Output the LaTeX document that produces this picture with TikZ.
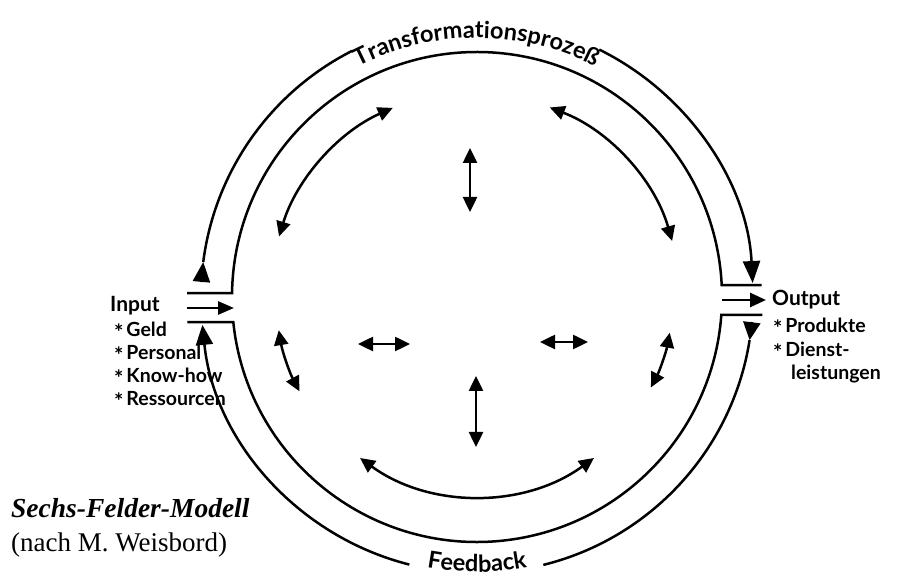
\documentclass[tikz,border=0pt]{standalone}
\usepackage{fontspec}
\setmainfont{Liberation Serif}
\newfontfamily\hand{Lato}
\usetikzlibrary{arrows.meta,decorations.text,calc}
\newcommand\starmark{\raisebox{-0.38ex}{\fontsize{22}{22}\selectfont*}\hspace{0.15em}}

\begin{document}
\begin{tikzpicture}[x=1pt,y=1pt,
  ring/.style={line width=2.5pt},
  bigtip/.style={-{Triangle[length=#1,width=17pt]}},
  flow/.style={line width=2.5pt,
    {Triangle[length=15pt,width=14pt]}-{Triangle[length=15pt,width=14pt]}},
  handtext/.style={font=\hand\bfseries\fontsize{21}{24}\selectfont, inner sep=0pt},
  itemtext/.style={font=\hand\bfseries\fontsize{19.5}{22}\selectfont, inner sep=0pt},
]
\useasboundingbox (0,0) rectangle (897,578);
\fill[white] (0,0) rectangle (897,578);

\coordinate (C) at (477,281);

% ---- outer ring: transformation (top) and feedback (bottom) ----
\coordinate (OLb) at ($(C)+(176.9:276)$);
\coordinate (OLa) at ($(C)+(172.7:276)$);
\coordinate (OTr) at ($(C)+(63.7:276)$);
\coordinate (OBl) at ($(C)+(255.8:276)$);
\coordinate (ORb) at ($(C)+(354.8:276)$);
\coordinate (ORa) at ($(C)+(351.0:276)$);

\draw[ring] (OLa) arc[start angle=172.7, end angle=116.9, radius=276];
\draw[ring, bigtip=20pt] (OLb) -- (OLa);
\draw[ring, bigtip=22pt] (OTr) arc[start angle=63.7, end angle=2.9, radius=276];
\draw[ring, bigtip=20pt] (OBl) arc[start angle=255.8, end angle=185.8, radius=276];
\draw[ring] (ORa) arc[start angle=351.0, end angle=283.9, radius=276];
\draw[ring, bigtip=18pt] (ORb) -- (ORa);

% ---- inner ring with the input / output gates ----
\coordinate (ILu) at ($(C)+(179.1:245)$);
\coordinate (IRu) at ($(C)+(2.8:245)$);
\coordinate (ILd) at ($(C)+(185.9:245)$);
\coordinate (IRd) at ($(C)+(355.8:245)$);
\draw[ring] ($(ILu)+(-45,0)$) -- (ILu)
  arc[start angle=179.1, end angle=2.8, radius=245] -- ($(IRu)+(40,0)$);
\draw[ring] ($(ILd)+(-46,0)$) -- (ILd)
  arc[start angle=185.9, end angle=355.8, radius=245] -- ($(IRd)+(41,0)$);

\coordinate (inA) at (187,270);
\coordinate (inB) at (234,270);
\coordinate (outA) at (722,278);
\coordinate (outB) at (766,278);
\draw[line width=2.8pt, -{Triangle[length=16pt,width=13pt]}] (inA) -- (inB);
\draw[line width=2.8pt, -{Triangle[length=16pt,width=14pt]}] (outA) -- (outB);

% ---- interactions between the six fields ----
\draw[flow] ($(C)+(114:207)$) arc[start angle=114, end angle=163, radius=207];
\draw[flow] ($(C)+(69:203)$) arc[start angle=69, end angle=16, radius=203];
\draw[flow] ($(C)+(189.5:201)$) arc[start angle=189.5, end angle=208, radius=201];
\draw[flow] ($(C)+(-10.5:196)$) arc[start angle=-10.5, end angle=-27.5, radius=196];
\draw[flow] ($(C)+(234:199)$) arc[start angle=234, end angle=306, radius=199];

\coordinate (vT1) at (470,366);
\coordinate (vT2) at (470,430);
\coordinate (hL1) at (358,234);
\coordinate (hL2) at (410,234);
\coordinate (hR1) at (540,236);
\coordinate (hR2) at (588,236);
\coordinate (vB1) at (476,131);
\coordinate (vB2) at (476,202);
\draw[flow] (vT1) -- (vT2);
\draw[flow] (hL1) -- (hL2);
\draw[flow] (hR1) -- (hR2);
\draw[flow] (vB1) -- (vB2);

% ---- ring labels set along the arcs ----
\path[decorate, decoration={text along path, text align=center,
  text={|\hand\bfseries\fontsize{23.5}{28}\selectfont|Transformationsprozeß}}]
  ($(C)+(125:259)$) arc[start angle=125, end angle=55, radius=259];
\path[decorate, decoration={text along path, text align=center,
  text={|\hand\bfseries\fontsize{23.5}{26}\selectfont|Feedback}}]
  ($(C)+(254:275)$) arc[start angle=254, end angle=286, radius=275];

% ---- input side ----
\node[handtext, anchor=base west] (inp) at (110,266) {Input};
\node[itemtext, anchor=base west] (in1) at (114,241) {\starmark Geld};
\node[itemtext, anchor=base west] (in2) at (114,218) {\starmark Personal};
\node[itemtext, anchor=base west] (in3) at (114,195) {\starmark Know-how};
\node[itemtext, anchor=base west] (in4) at (114,172) {\starmark Ressourcen};

% ---- output side ----
\node[handtext, anchor=base west] (outp) at (772,272) {Output};
\node[itemtext, anchor=base west] (out1) at (773,245) {\starmark Produkte};
\node[itemtext, anchor=base west] (out2) at (773,221) {\starmark Dienst-};
\node[itemtext, anchor=base west] (out3) at (791,198) {leistungen};

% ---- caption ----
\node[anchor=base west, inner sep=0pt,
  font=\bfseries\itshape\fontsize{27.5}{30}\selectfont] (title) at (11,60) {Sechs-Felder-Modell};
\node[anchor=base west, inner sep=0pt,
  font=\fontsize{27}{30}\selectfont] (sub) at (11,26) {(nach M. Weisbord)};
\end{tikzpicture}
\end{document}
